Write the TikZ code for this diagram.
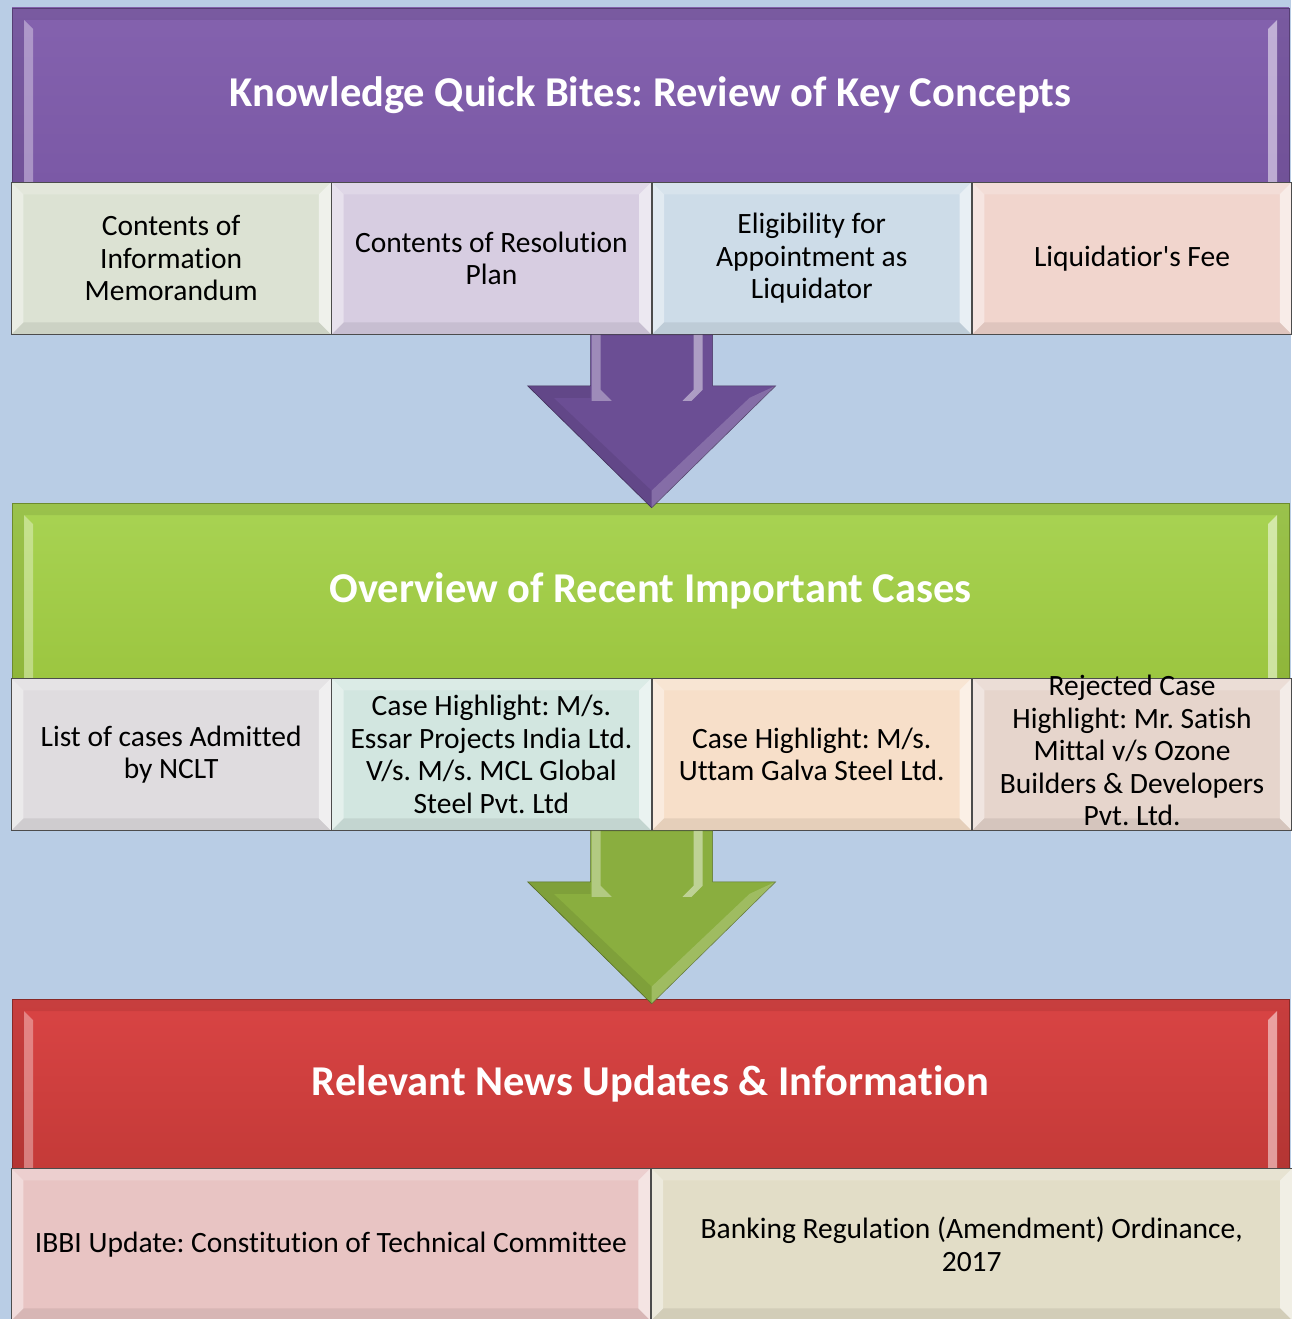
\documentclass[tikz,border=0pt]{standalone}
\usepackage{fontspec}
\setmainfont{Carlito}[Ligatures={TeX,NoCommon}]
\newfontfamily\rawfont{Carlito}
\frenchspacing
\usetikzlibrary{positioning,calc}

\definecolor{bgblue}{HTML}{B9CDE5}
\definecolor{hdrPurpleTop}{HTML}{8462AE}
\definecolor{hdrPurpleBot}{HTML}{7B59A6}
\definecolor{hdrGreenTop}{HTML}{A8D353}
\definecolor{hdrGreenBot}{HTML}{9CC640}
\definecolor{hdrRedTop}{HTML}{D94444}
\definecolor{hdrRedBot}{HTML}{C43A38}
\definecolor{arrPurple}{HTML}{6B4E94}
\definecolor{arrGreen}{HTML}{8AAE3F}
\definecolor{cSage}{HTML}{DCE2D3}
\definecolor{cLilac}{HTML}{D7CDE1}
\definecolor{cIce}{HTML}{CDDCE8}
\definecolor{cRose}{HTML}{F1D5CD}
\definecolor{cGrey}{HTML}{DFDCDF}
\definecolor{cMint}{HTML}{D2E6E0}
\definecolor{cPeach}{HTML}{F7DFC9}
\definecolor{cTan}{HTML}{E6D5CC}
\definecolor{cPink}{HTML}{E8C4C3}
\definecolor{cBeige}{HTML}{E2DDC7}

\tikzset{
  boxbevel/.style={path picture={
    \coordinate (bnw) at (path picture bounding box.north west);
    \coordinate (bne) at (path picture bounding box.north east);
    \coordinate (bsw) at (path picture bounding box.south west);
    \coordinate (bse) at (path picture bounding box.south east);
    \fill[white,opacity=.4] (bnw) -- ([shift={(12pt,-12pt)}]bnw) -- ([shift={(12pt,12pt)}]bsw) -- (bsw) -- cycle;
    \fill[white,opacity=.2] (bnw) -- (bne) -- ([shift={(-12pt,-12pt)}]bne) -- ([shift={(12pt,-12pt)}]bnw) -- cycle;
    \fill[white,opacity=.55] (bne) -- (bse) -- ([shift={(-12pt,12pt)}]bse) -- ([shift={(-12pt,-12pt)}]bne) -- cycle;
    \fill[black,opacity=.07] (bsw) -- (bse) -- ([shift={(-12pt,12pt)}]bse) -- ([shift={(12pt,12pt)}]bsw) -- cycle;
  }},
  hdrbevel/.style={path picture={
    \coordinate (bnw) at (path picture bounding box.north west);
    \coordinate (bne) at (path picture bounding box.north east);
    \coordinate (bsw) at (path picture bounding box.south west);
    \coordinate (bse) at (path picture bounding box.south east);
    \fill[black,opacity=.08,even odd rule] (bsw) rectangle (bne)
      ([shift={(12pt,0pt)}]bsw) rectangle ([shift={(-12pt,-12pt)}]bne);
    \fill[white,opacity=.35] ([shift={(12pt,-12pt)}]bnw) -- ([shift={(21pt,-21pt)}]bnw) -- ([shift={(21pt,0pt)}]bsw) -- ([shift={(12pt,0pt)}]bsw) -- cycle;
    \fill[#1,opacity=.5] ([shift={(-12pt,-12pt)}]bne) -- ([shift={(-21pt,-21pt)}]bne) -- ([shift={(-21pt,0pt)}]bse) -- ([shift={(-12pt,0pt)}]bse) -- cycle;
  }},
  hdr/.style 2 args={top color=#1, bottom color=#2, draw=#2!70!black, line width=.6pt,
    minimum width=1277pt, inner sep=0pt, text=white,
    font=\fontsize{42.5}{50}\selectfont\bfseries, hdrbevel=white},
  subbox/.style={draw=black!70, line width=.8pt, minimum width=319.5pt, minimum height=152pt,
    inner sep=0pt, align=center, text=black, font=\fontsize{29.5}{32.5}\selectfont, boxbevel},
}

\newcommand{\flowarrow}[3]{% #1 top of shaft, #2 tip, #3 colour
  \fill[#3, draw=#3!65!black, line width=.6pt] let \p1=(#1), \p2=(#2) in
    (\x1-61pt,\y1) -- (\x1+61pt,\y1) -- (\x1+61pt,\y1-51pt) -- (\x1+124pt,\y1-51pt)
    -- (\x1,\y2) -- (\x1-124pt,\y1-51pt) -- (\x1-61pt,\y1-51pt) -- cycle;
  \fill[white,opacity=.35] let \p1=(#1) in
    (\x1-60pt,\y1) -- (\x1-51pt,\y1) -- (\x1-51pt,\y1-55pt) -- (\x1-40pt,\y1-66pt) -- (\x1-60pt,\y1-66pt) -- cycle;
  \fill[white,opacity=.45] let \p1=(#1) in
    (\x1+42pt,\y1) -- (\x1+51pt,\y1) -- (\x1+51pt,\y1-55pt) -- (\x1+40pt,\y1-66pt) -- (\x1+31pt,\y1-66pt) -- (\x1+42pt,\y1-55pt) -- cycle;
  \fill[black,opacity=.08] let \p1=(#1), \p2=(#2) in
    (\x1-124pt,\y1-51pt) -- (\x1-61pt,\y1-51pt) -- (\x1-61pt,\y1-63pt) -- (\x1-98pt,\y1-63pt) -- (\x1,\y2+17pt) -- (\x1,\y2) -- cycle;
  \fill[white,opacity=.18] let \p1=(#1), \p2=(#2) in
    (\x1+124pt,\y1-51pt) -- (\x1,\y2) -- (\x1,\y2+17pt) -- (\x1+98pt,\y1-63pt) -- cycle;
}

\begin{document}
\begin{tikzpicture}[x=1pt,y=-1pt]
  \fill[bgblue] (0,0) rectangle (1291,1319);
  \useasboundingbox (0,0) rectangle (1291,1319);

  % knowledge quick bites
  \node[hdr={hdrPurpleTop}{hdrPurpleBot}, minimum height=174pt] (hdrKnow) at (650.5,95) {Knowledge Quick Bites: Review of Key Concepts};
  \node[subbox, fill=cSage, anchor=north west] (kb1) at (11,182) {Contents of\\Information\\Memorandum};
  \node[subbox, fill=cLilac, right=0pt of kb1] (kb2) {Contents of Resolution\\Plan};
  \node[subbox, fill=cIce, right=0pt of kb2] (kb3) {Eligibility for\\Appointment as\\Liquidator};
  \node[subbox, fill=cRose, right=0pt of kb3] (kb4) {Liquidatior{\rawfont'}s Fee};

  % recent cases
  \node[hdr={hdrGreenTop}{hdrGreenBot}, minimum height=175pt] (hdrCases) at (650.5,590.5) {Overview of Recent Important Cases};
  \node[subbox, fill=cGrey, anchor=north west] (rc1) at (11,678) {List of cases Admitted\\by NCLT};
  \node[subbox, fill=cMint, right=0pt of rc1] (rc2) {Case Highlight: M/s.\\Essar Projects India Ltd.\\V/s. M/s. MCL Global\\Steel Pvt. Ltd};
  \node[subbox, fill=cPeach, right=0pt of rc2] (rc3) {Case Highlight: M/s.\\Uttam Galva Steel Ltd.};
  \node[subbox, fill=cTan, right=0pt of rc3] (rc4) {\raisebox{-6pt}[0pt][0pt]{\begin{tabular}{@{}c@{}}Rejected Case\\Highlight: Mr. Satish\\Mittal v/s Ozone\\Builders \& Developers\\Pvt. Ltd.\end{tabular}}};

  % news
  \node[hdr={hdrRedTop}{hdrRedBot}, minimum height=169pt] (hdrNews) at (650.5,1083.5) {Relevant News Updates \& Information};
  \node[subbox, fill=cPink, minimum width=639pt, anchor=north west] (nw1) at (11,1168) {IBBI Update: Constitution of Technical Committee};
  \node[subbox, fill=cBeige, minimum width=641pt, right=0pt of nw1] (nw2) {Banking Regulation (Amendment) Ordinance,\\2017};

  \flowarrow{kb2.south east}{$(hdrCases.north)+(0,5)$}{arrPurple}
  \flowarrow{rc2.south east}{$(hdrNews.north)+(0,5)$}{arrGreen}
\end{tikzpicture}
\end{document}
